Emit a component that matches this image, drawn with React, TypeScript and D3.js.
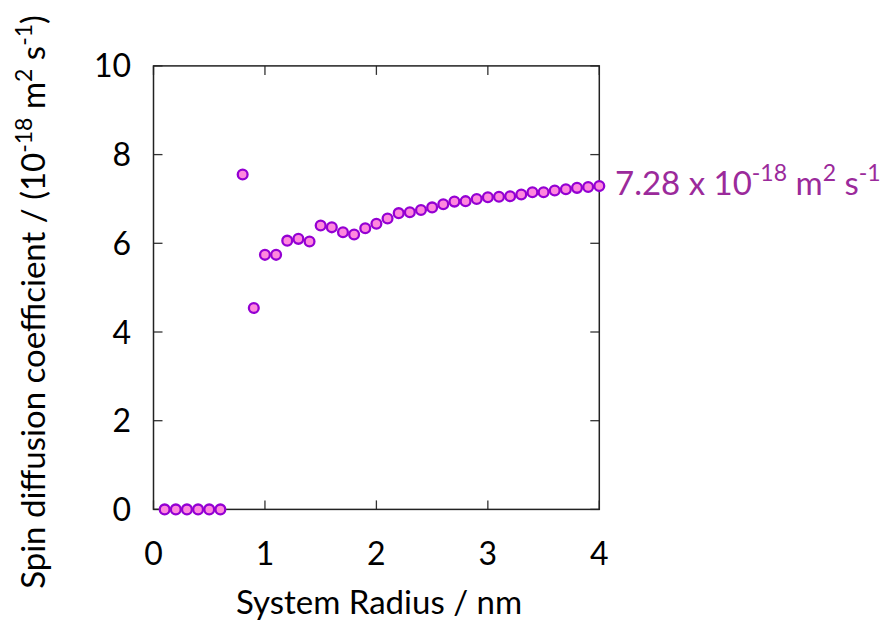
import React from "react";
import * as d3 from "d3";

const radiusNm = [0.1, 0.2, 0.3, 0.4, 0.5, 0.6, 0.8, 0.9, 1.0, 1.1, 1.2, 1.3, 1.4, 1.5, 1.6, 1.7, 1.8, 1.9, 2.0, 2.1, 2.2, 2.3, 2.4, 2.5, 2.6, 2.7, 2.8, 2.9, 3.0, 3.1, 3.2, 3.3, 3.4, 3.5, 3.6, 3.7, 3.8, 3.9, 4.0];
const diffusion = [0, 0, 0, 0, 0, 0, 7.55, 4.54, 5.74, 5.74, 6.06, 6.1, 6.04, 6.4, 6.36, 6.25, 6.2, 6.34, 6.44, 6.56, 6.68, 6.7, 6.75, 6.81, 6.88, 6.94, 6.95, 7.0, 7.04, 7.05, 7.06, 7.1, 7.15, 7.15, 7.19, 7.22, 7.25, 7.27, 7.29];
const xTicks = [0, 1, 2, 3, 4];
const yTicks = [0, 2, 4, 6, 8, 10];

const W = 890, H = 621;
const L = 153.5, R = 599.3, T = 65.9, B = 509.4;
const FONT = "Lato, 'Noto Sans', sans-serif";

export default function App() {
  const x = d3.scaleLinear().domain([0, 4]).range([L, R]);
  const y = d3.scaleLinear().domain([0, 10]).range([B, T]);
  const tick = 9;
  const pts = radiusNm.map((r, i) => ({ r, v: diffusion[i] }));
  return (
    <svg width={W} height={H} style={{ position: "absolute", left: 0, top: 0 }} fontFamily={FONT}>
      <rect x={0} y={0} width={W} height={H} fill="#fff" />
      {xTicks.map((t) => (
        <g key={"x" + t}>
          <line x1={x(t)} x2={x(t)} y1={B} y2={B - tick} stroke="#333" strokeWidth={1.3} />
          <line x1={x(t)} x2={x(t)} y1={T} y2={T + tick} stroke="#333" strokeWidth={1.3} />
          <text x={x(t)} y={565} textAnchor="middle" fontSize={32} fill="#000">{t}</text>
        </g>
      ))}
      {yTicks.map((t) => (
        <g key={"y" + t}>
          <line x1={L} x2={L + tick} y1={y(t)} y2={y(t)} stroke="#333" strokeWidth={1.3} />
          <line x1={R} x2={R - tick} y1={y(t)} y2={y(t)} stroke="#333" strokeWidth={1.3} />
          <text x={131} y={y(t) + 11.5} textAnchor="end" fontSize={32} fill="#000">{t}</text>
        </g>
      ))}
      <rect x={L} y={T} width={R - L} height={B - T} fill="none" stroke="#222" strokeWidth={1.5} />
      {pts.map((p, i) => (
        <circle key={i} cx={x(p.r)} cy={y(p.v)} r={4.9} fill="#ff88dd" stroke="#9400d3" strokeWidth={2.3} />
      ))}
      <text x={379} y={614} textAnchor="middle" fontSize={33} fill="#000">System Radius / nm</text>
      <text transform={`translate(45,302) rotate(-90)`} textAnchor="middle" fontSize={33} fill="#000">
        Spin diffusion coefficient / (10<tspan dy={-13} fontSize={23}>-18</tspan>
        <tspan dy={13}> m</tspan><tspan dy={-13} fontSize={23}>2</tspan>
        <tspan dy={13}> s</tspan><tspan dy={-13} fontSize={23}>-1</tspan>
        <tspan dy={13}>)</tspan>
      </text>
      <text x={615} y={195} fontSize={33} fill="#9b2a9b">
        7.28 x 10<tspan dy={-14} fontSize={23}>-18</tspan>
        <tspan dy={14}> m</tspan><tspan dy={-14} fontSize={23}>2</tspan>
        <tspan dy={14}> s</tspan><tspan dy={-14} fontSize={23}>-1</tspan>
      </text>
    </svg>
  );
}
